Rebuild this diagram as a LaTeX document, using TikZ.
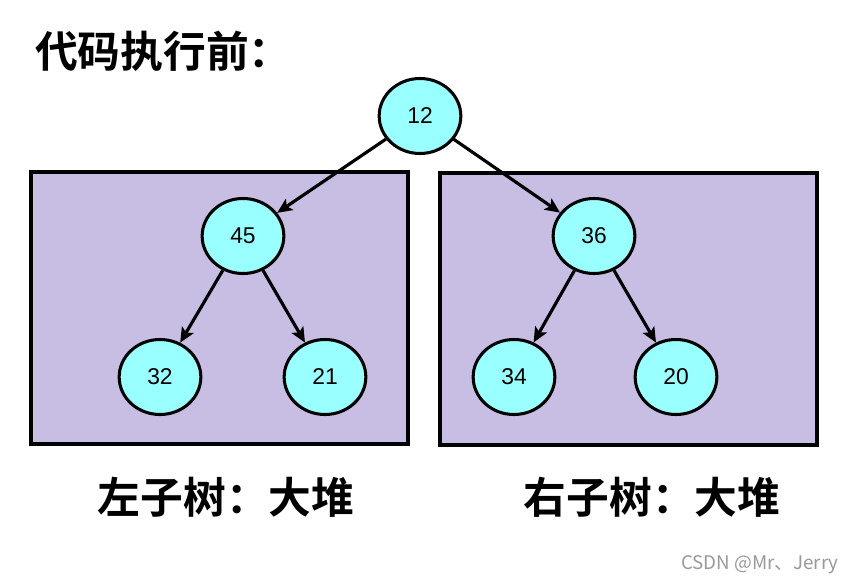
\documentclass[tikz,border=0pt]{standalone}
\usepackage{fontspec}
\setmainfont{Liberation Sans}
\newfontfamily\cjk{Noto Sans CJK SC}[BoldFont={Noto Sans CJK SC Bold}]
\usetikzlibrary{shapes.geometric, arrows.meta, positioning}
\definecolor{heapBox}{RGB}{200,190,228}
\definecolor{keyNode}{RGB}{153,255,255}

\begin{document}
\begin{tikzpicture}[x=0.03cm, y=-0.03cm,
    heapbox/.style={rectangle, draw, line width=3.2pt, fill=heapBox, minimum width=11.31cm, minimum height=8.16cm},
    keynode/.style={ellipse, draw, line width=2.6pt, fill=keyNode, minimum width=2.45cm, minimum height=2.25cm, inner sep=0pt, font=\fontsize{19.5}{19.5}\selectfont},
    title/.style={font=\cjk\bfseries\fontsize{36.5}{36.5}\selectfont},
    edge/.style={-{Stealth[length=0.45cm, width=0.4cm, inset=0.1cm]}, line width=2.7pt}
]
\useasboundingbox (0,0) rectangle (866,585);

\node[title, anchor=west] (caption) at (31,51) {代码执行前：};

\node[heapbox] (leftbox) at (219.5,308) {};
\node[heapbox] (rightbox) at (628.5,309) {};

\node[keynode] (k12) at (420,116) {12};
\node[keynode] (k45) at (243,236) {45};
\node[keynode] (k36) at (594,236) {36};
\node[keynode] (k32) at (160,377) {32};
\node[keynode] (k21) at (325,377) {21};
\node[keynode] (k34) at (514,377) {34};
\node[keynode] (k20) at (676,377) {20};

\draw[edge] (k12) -- (k45);
\draw[edge] (k12) -- (k36);
\draw[edge] (k45) -- (k32);
\draw[edge] (k45) -- (k21);
\draw[edge] (k36) -- (k34);
\draw[edge] (k36) -- (k20);

\node[title] (leftlabel) at (226,497) {左子树：大堆};
\node[title] (rightlabel) at (652,497) {右子树：大堆};

\node[font=\cjk\fontsize{16}{16}\selectfont, text=black!40] (mark) at (760,565) {CSDN @Mr、Jerry};
\end{tikzpicture}
\end{document}
